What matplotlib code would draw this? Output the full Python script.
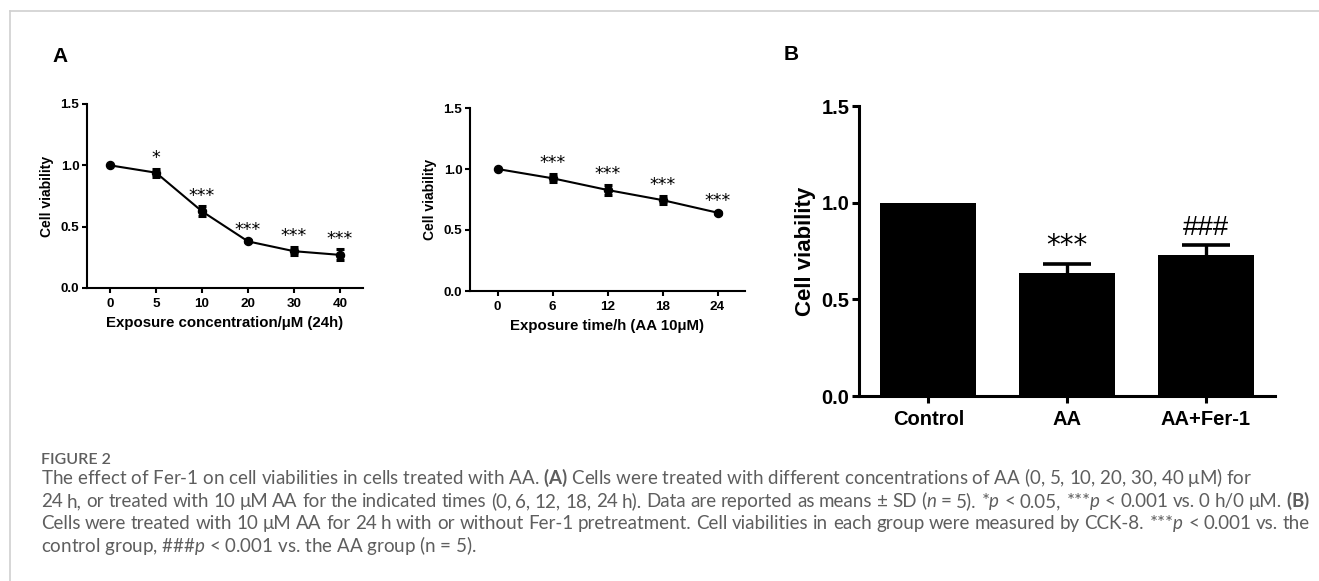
import matplotlib
matplotlib.use('Agg')
import matplotlib.pyplot as plt
from matplotlib.lines import Line2D
import numpy as np

# --- data ---
conc_labels = ['0', '5', '10', '20', '30', '40']
conc_mean = [1.0, 0.94, 0.625, 0.38, 0.30, 0.27]
conc_sd = [0.0, 0.033, 0.04, 0.008, 0.033, 0.044]
conc_sig = ['', '*', '***', '***', '***', '***']

time_labels = ['0', '6', '12', '18', '24']
time_mean = [1.0, 0.924, 0.828, 0.745, 0.642]
time_sd = [0.0, 0.033, 0.04, 0.032, 0.008]
time_sig = ['', '***', '***', '***', '***']

groups = ['Control', 'AA', 'AA+Fer-1']
group_mean = [1.0, 0.635, 0.727]
group_sd = [0.0, 0.05, 0.053]
group_sig = ['', '***', '###']

W, H = 1319, 581
plt.rcParams['font.family'] = ['Liberation Sans', 'DejaVu Sans']
plt.rcParams['mathtext.fontset'] = 'custom'
plt.rcParams['mathtext.rm'] = 'Lato'
plt.rcParams['mathtext.it'] = 'Lato:italic'
plt.rcParams['mathtext.bf'] = 'Lato:bold'

fig = plt.figure(figsize=(W / 100, H / 100), dpi=100)


def px_box(l, t, r, b):
    # pixel box -> figure fraction rect
    return [l / W, 1 - b / H, (r - l) / W, (b - t) / H]


def style_ax(ax, lw, tick_len, fs, pad):
    for s in ['top', 'right']:
        ax.spines[s].set_visible(False)
    for s in ['left', 'bottom']:
        ax.spines[s].set_linewidth(lw)
    ax.tick_params(width=lw, length=tick_len, labelsize=fs, pad=2)
    ax.tick_params(axis='x', pad=pad)
    for lab in ax.get_xticklabels() + ax.get_yticklabels():
        lab.set_fontweight('bold')
    ax.set_ylim(0, 1.5)
    ax.set_yticks([0, 0.5, 1.0, 1.5])
    ax.set_yticklabels(['0.0', '0.5', '1.0', '1.5'], fontweight='bold', fontsize=fs)


def line_panel(ax, labels, mean, sd, sig, xlabel):
    x = np.arange(len(labels))
    ax.errorbar(x, mean, yerr=sd, color='black', lw=1.5, marker='o', ms=5.8,
                capsize=3.2, capthick=2.2, elinewidth=2.2)
    ax.set_xlim(-0.5, len(labels) - 0.5)
    ax.set_xticks(x)
    ax.set_xticklabels(labels)
    style_ax(ax, 1.5, 3.5, 9.7, 4)
    ax.set_xlabel(xlabel, fontsize=10.8, fontweight='bold', labelpad=4)
    ax.set_ylabel('Cell viability', fontsize=10, fontweight='bold', labelpad=5)
    for xi, m, s, t in zip(x, mean, sd, sig):
        if t:
            ax.text(xi, m + s + 0.015, t, ha='center', va='bottom', fontsize=12.5,
                    family='DejaVu Sans')


ax1 = fig.add_axes(px_box(87, 104, 363, 288))
line_panel(ax1, conc_labels, conc_mean, conc_sd, conc_sig, 'Exposure concentration/μM (24h)')

ax2 = fig.add_axes(px_box(470, 108, 745, 291))
line_panel(ax2, time_labels, time_mean, time_sd, time_sig, 'Exposure time/h (AA 10μM)')

ax3 = fig.add_axes(px_box(859, 106, 1275, 396))
xb = np.arange(len(groups))
ax3.bar(xb, group_mean, width=0.69, color='black')
# upper-only error bars, only where there is a SD
for xi, m, s in zip(xb, group_mean, group_sd):
    if s > 0:
        eb = ax3.errorbar([xi], [m], yerr=[[0], [s]], fmt='none', ecolor='black',
                          elinewidth=2.4, capsize=17, capthick=2.6)
        eb[1][0].set_visible(False)
ax3.set_xlim(-0.5, len(groups) - 0.5)
ax3.set_xticks(xb)
ax3.set_xticklabels(groups)
style_ax(ax3, 2.2, 5, 14.5, 5)
ax3.set_ylabel('Cell viability', fontsize=16, fontweight='bold', labelpad=4)
for xi, m, s, t in zip(xb, group_mean, group_sd, group_sig):
    if t:
        fam = 'DejaVu Sans' if t.startswith('*') else 'Liberation Sans'
        ax3.text(xi, m + s + 0.02, t, ha='center', va='bottom', fontsize=20, family=fam)

# panel letters
fig.text(60 / W, 1 - 57 / H, 'A', fontsize=15, fontweight='bold', va='center', ha='center')
fig.text(791 / W, 1 - 55 / H, 'B', fontsize=15, fontweight='bold', va='center', ha='center')

# frame lines (top and left)
gray = '#d0d0d0'
fig.add_artist(Line2D([9.5 / W, 1], [1 - 11 / H, 1 - 11 / H], color=gray, lw=1.2))
fig.add_artist(Line2D([9.5 / W, 9.5 / W], [0, 1 - 11 / H], color=gray, lw=1.2))

# caption
cap_color = '#5e5e5e'
cap_fam = ['Lato', 'DejaVu Sans']
fig.text(41 / W, 1 - 464 / H, 'FIGURE 2', fontsize=11.5, fontweight='semibold',
         color=cap_color, family=cap_fam, va='baseline')

cap_lines = [
    'The effect of Fer-1 on cell viabilities in cells treated with AA. $\\mathbf{(A)}$ Cells were treated with different concentrations of AA (0, 5, 10, 20, 30, 40 μM) for',
    '24 h, or treated with 10 μM AA for the indicated times (0, 6, 12, 18, 24 h). Data are reported as means ± SD ($n$ = 5). *$p$ < 0.05, ***$p$ < 0.001 vs. 0 h/0 μM. $\\mathbf{(B)}$',
    'Cells were treated with 10 μM AA for 24 h with or without Fer-1 pretreatment. Cell viabilities in each group were measured by CCK-8. ***$p$ < 0.001 vs. the',
    'control group, ###$p$ < 0.001 vs. the AA group (n = 5).',
]
cap_justify = [False, True, True, False]
cap_base = [484, 507, 529, 552]
cap_fs = 13.5
renderer = fig.canvas.get_renderer()
x_left, x_right = 41, 1310
for txt, just, yb in zip(cap_lines, cap_justify, cap_base):
    if not just:
        fig.text(x_left / W, 1 - yb / H, txt, fontsize=cap_fs, color=cap_color,
                 family=cap_fam, va='baseline')
        continue
    words = txt.split(' ')
    arts = [fig.text(0, 1 - yb / H, w, fontsize=cap_fs, color=cap_color,
                     family=cap_fam, va='baseline') for w in words]
    widths = [a.get_window_extent(renderer).width for a in arts]
    gap = (x_right - x_left - sum(widths)) / (len(words) - 1)
    xc = x_left
    for a, wd in zip(arts, widths):
        a.set_x(xc / W)
        xc += wd + gap

fig.savefig('out.png', dpi=100)
